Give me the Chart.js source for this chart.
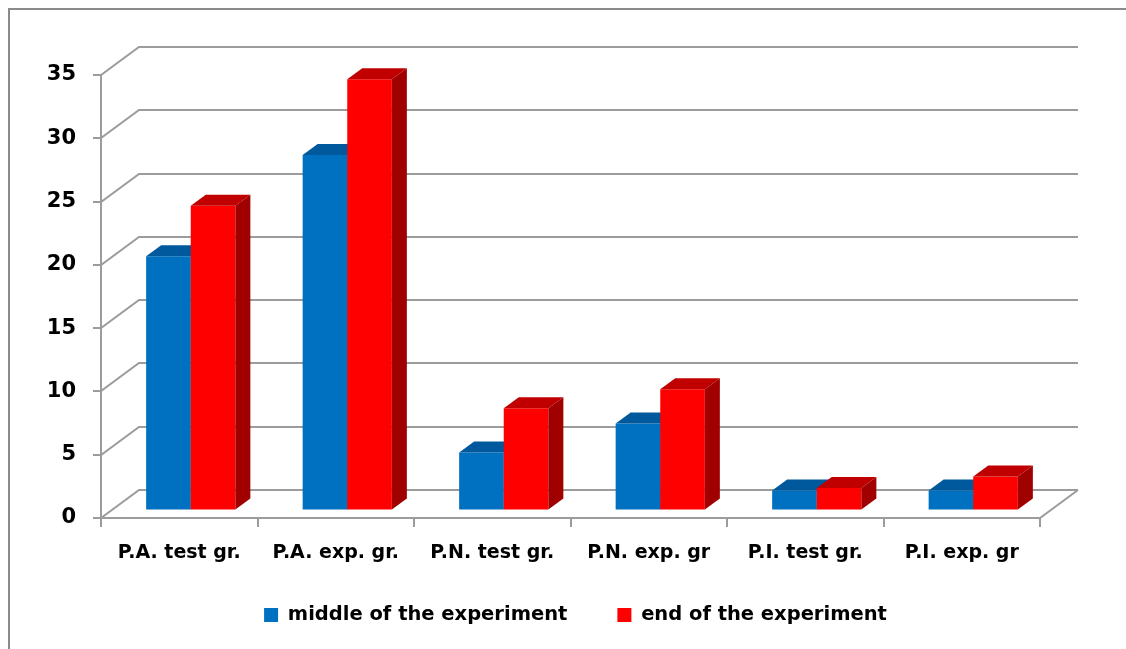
<!DOCTYPE html>
<html>
<head>
<meta charset="utf-8">
<script src="https://cdn.jsdelivr.net/npm/chart.js@4.4.1/dist/chart.umd.min.js"></script>
<style>
  html, body { margin: 0; padding: 0; background: #ffffff; }
  #wrap { width: 1126px; height: 649px; position: relative; }
</style>
</head>
<body>
<div id="wrap"><canvas id="chart"></canvas></div>
<script>
// Groups and series
const categories = ['P.A. test gr.', 'P.A. exp. gr.', 'P.N. test gr.', 'P.N. exp. gr', 'P.I. test gr.', 'P.I. exp. gr'];
const middleOfExperiment = [20, 28, 4.5, 6.8, 1.5, 1.5];
const endOfExperiment = [24, 34, 8, 9.5, 1.7, 2.6];
const seriesNames = ['middle of the experiment', 'end of the experiment'];
const yTicks = { min: 0, max: 35, step: 5 };

// 3D look: depth of the box (walls/floor) and of each bar
const WALL = { dx: 38, dy: -28 };
const BAR_SHIFT = { dx: 11.5, dy: -8.5 };
const BAR_DEPTH = { dx: 15, dy: -11 };
const GRID_COLOR = '#9c9c9c';
const LEGEND_TOP = 555.25;

const faceColors = [
  { top: '#00599c', side: '#004a82' },
  { top: '#c00000', side: '#a00000' }
];

const frame3d = {
  id: 'frame3d',
  afterLayout(chart) {
    // legend sits a little higher than its default slot
    const lg = chart.legend;
    if (lg) {
      const h = lg.bottom - lg.top;
      lg.top = LEGEND_TOP;
      lg.bottom = LEGEND_TOP + h;
    }
  },
  beforeDraw(chart) {
    const ctx = chart.ctx;
    ctx.save();
    ctx.fillStyle = '#ffffff';
    ctx.fillRect(0, 0, chart.width, chart.height);
    // outer frame
    ctx.strokeStyle = '#8a8a8a';
    ctx.lineWidth = 2;
    ctx.beginPath();
    ctx.moveTo(9, chart.height);
    ctx.lineTo(9, 9);
    ctx.lineTo(chart.width, 9);
    ctx.stroke();
    ctx.restore();
  },
  beforeDatasetsDraw(chart) {
    const ctx = chart.ctx;
    const { left, right, bottom } = chart.chartArea;
    const y = chart.scales.y;
    ctx.save();
    ctx.strokeStyle = GRID_COLOR;
    ctx.lineWidth = 2;
    // side wall diagonals + back wall gridlines + y ticks
    for (let v = yTicks.min; v <= yTicks.max; v += yTicks.step) {
      const py = Math.round(y.getPixelForValue(v));
      ctx.beginPath();
      ctx.moveTo(left - 8, py);
      ctx.lineTo(left, py);
      ctx.lineTo(left + WALL.dx, py + WALL.dy);
      ctx.lineTo(right + WALL.dx, py + WALL.dy);
      ctx.stroke();
    }
    // vertical axis line
    ctx.beginPath();
    ctx.moveTo(left, Math.round(y.getPixelForValue(yTicks.max)));
    ctx.lineTo(left, bottom + 1);
    ctx.stroke();
    // floor front edge and right edge
    ctx.beginPath();
    ctx.moveTo(left, bottom);
    ctx.lineTo(right, bottom);
    ctx.lineTo(right + WALL.dx, bottom + WALL.dy);
    ctx.stroke();
    // category separators below the floor
    const n = categories.length;
    for (let i = 0; i <= n; i++) {
      const px = Math.round(left + (right - left) * i / n);
      ctx.beginPath();
      ctx.moveTo(px, bottom);
      ctx.lineTo(px, bottom + 9);
      ctx.stroke();
    }
    ctx.restore();
  },
  beforeDatasetDraw() {
    // bars are drawn together below, series by series, with their 3D faces
    return false;
  },
  afterDatasetsDraw(chart) {
    const ctx = chart.ctx;
    chart.data.datasets.forEach((ds, index) => {
      const meta = chart.getDatasetMeta(index);
      const colors = faceColors[index];
      ctx.save();
      ctx.translate(BAR_SHIFT.dx, BAR_SHIFT.dy);
      meta.controller.draw();
      meta.data.forEach((bar) => {
        const { x, y, base, width } = bar.getProps(['x', 'y', 'base', 'width'], true);
        const l = x - width / 2;
        const r = x + width / 2;
        ctx.fillStyle = colors.top;
        ctx.beginPath();
        ctx.moveTo(l, y);
        ctx.lineTo(r, y);
        ctx.lineTo(r + BAR_DEPTH.dx, y + BAR_DEPTH.dy);
        ctx.lineTo(l + BAR_DEPTH.dx, y + BAR_DEPTH.dy);
        ctx.closePath();
        ctx.fill();
        ctx.fillStyle = colors.side;
        ctx.beginPath();
        ctx.moveTo(r, y);
        ctx.lineTo(r + BAR_DEPTH.dx, y + BAR_DEPTH.dy);
        ctx.lineTo(r + BAR_DEPTH.dx, base + BAR_DEPTH.dy);
        ctx.lineTo(r, base);
        ctx.closePath();
        ctx.fill();
      });
      ctx.restore();
    });
  }
};

const boldFont = (size) => ({ family: 'DejaVu Sans', weight: 'bold', size: size });

new Chart(document.getElementById('chart'), {
  type: 'bar',
  data: {
    labels: categories,
    datasets: [
      { label: seriesNames[0], data: middleOfExperiment, backgroundColor: '#0070c0' },
      { label: seriesNames[1], data: endOfExperiment, backgroundColor: '#ff0000' }
    ]
  },
  options: {
    responsive: true,
    maintainAspectRatio: false,
    animation: false,
    devicePixelRatio: 1,
    layout: { padding: { left: 25, right: 0, top: 75, bottom: 0 } },
    datasets: { bar: { categoryPercentage: 0.57, barPercentage: 1.0, borderWidth: 0 } },
    scales: {
      x: {
        grid: { display: false, drawTicks: false },
        border: { display: false },
        ticks: { color: '#000000', font: boldFont(19), padding: 24, maxRotation: 0, autoSkip: false },
        afterFit(scale) { scale.height = 51.5; }
      },
      y: {
        min: yTicks.min,
        max: yTicks.max,
        grid: { display: false, drawTicks: false },
        border: { display: false },
        ticks: { stepSize: yTicks.step, color: '#000000', font: boldFont(21), padding: 25 },
        afterFit(scale) { scale.width = 76; }
      },
      yRight: {
        position: 'right',
        display: true,
        grid: { display: false, drawTicks: false },
        border: { display: false },
        ticks: { display: false },
        afterFit(scale) { scale.width = 86; }
      }
    },
    plugins: {
      legend: {
        position: 'bottom',
        labels: {
          color: '#000000',
          font: boldFont(19.5),
          boxWidth: 14,
          boxHeight: 14,
          padding: 50
        }
      },
      tooltip: { enabled: false }
    }
  },
  plugins: [frame3d]
});
</script>
</body>
</html>
